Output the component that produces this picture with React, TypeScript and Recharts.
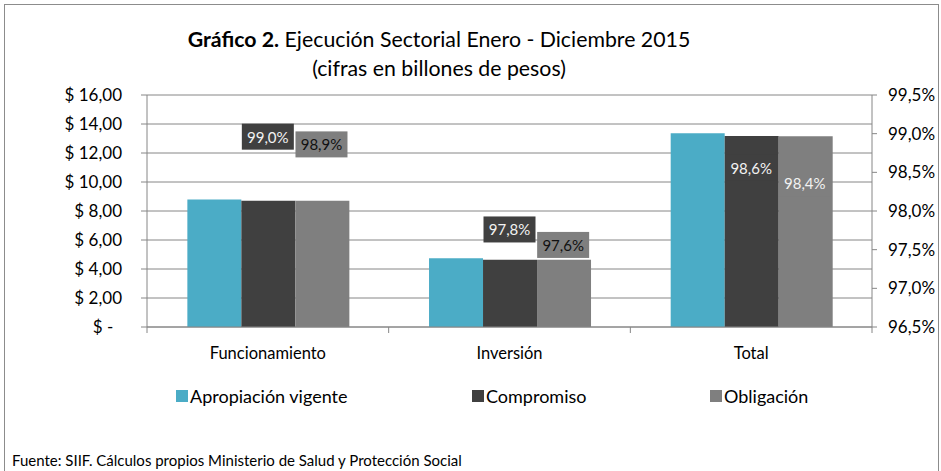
import React from 'react';
import { ComposedChart, Bar, Line, XAxis, YAxis, CartesianGrid } from 'recharts';

const categories = ['Funcionamiento', 'Inversión', 'Total'];
const apropiacion = [8.8, 4.74, 13.36];
const compromiso = [8.71, 4.64, 13.17];
const obligacion = [8.7, 4.63, 13.15];
const compromisoPct = [99.0, 97.8, 98.6];
const obligacionPct = [98.9, 97.6, 98.4];
const leftTicks = [0, 2, 4, 6, 8, 10, 12, 14, 16];
const rightTicks = [96.5, 97, 97.5, 98, 98.5, 99, 99.5];

const series = [
  { key: 'apropiacion', name: 'Apropiación vigente', color: '#4BACC6' },
  { key: 'compromiso', name: 'Compromiso', color: '#404040' },
  { key: 'obligacion', name: 'Obligación', color: '#7F7F7F' },
];

const data = categories.map((name, i) => ({
  name,
  apropiacion: apropiacion[i],
  compromiso: compromiso[i],
  obligacion: obligacion[i],
  compromisoPct: compromisoPct[i],
  obligacionPct: obligacionPct[i],
}));

const FONT = 'Lato, "Liberation Sans", sans-serif';
const AXIS = '#868686';
const W = 941;
const H = 471;
const LEFT_W = 147;
const RIGHT_W = 69;
const BAND = (W - LEFT_W - RIGHT_W) / categories.length;
const GAP = 0.167;
const BAR_W = (BAND * (1 - 2 * GAP)) / 3;

const money = (v: number) => (v === 0 ? '$ -\u00a0\u00a0' : `$ ${v.toFixed(2).replace('.', ',')}`);
const pct = (v: number) => `${v.toFixed(1).replace('.', ',')}%`;

const CategoryTick = (props: any) => {
  const { x, y, payload, index } = props;
  return (
    <g>
      <line x1={x - BAND / 2} x2={x - BAND / 2} y1={y} y2={y + 6} stroke={AXIS} />
      {index === categories.length - 1 && (
        <line x1={x + BAND / 2} x2={x + BAND / 2} y1={y} y2={y + 6} stroke={AXIS} />
      )}
      <text x={x} y={y + 26} textAnchor="middle" dominantBaseline="central" fontSize={16.5} fill="#000" fontFamily={FONT}>
        {payload.value}
      </text>
    </g>
  );
};

const pctLabel = (fill: string, textColor: (i: number) => string, dx: number) => (props: any) => {
  const { x, y, value, index } = props;
  const cx = x + dx;
  const cy = y + 3;
  return (
    <g>
      <rect x={cx - 26} y={cy - 13} width={52} height={26} fill={fill} />
      <text x={cx} y={cy} textAnchor="middle" dominantBaseline="central" fontSize={15} fill={textColor(index)} fontFamily={FONT}>
        {pct(value)}
      </text>
    </g>
  );
};

export default function App() {
  return (
    <div style={{ position: 'absolute', left: 0, top: 0, width: W, height: H, background: '#fff', overflow: 'hidden', fontFamily: FONT }}>
      <div style={{ position: 'absolute', left: 4, top: 4, width: 933, height: H + 20, border: '1px solid #8C8C8C' }} />
      <div style={{ position: 'absolute', left: 0, top: 25, width: 878, textAlign: 'center', fontSize: 21.3, lineHeight: '29px', color: '#000' }}>
        <div>
          <b>Gráfico 2.</b> Ejecución Sectorial Enero - Diciembre 2015
        </div>
        <div>(cifras en billones de pesos)</div>
      </div>
      <div style={{ position: 'absolute', left: 0, top: 0 }}>
        <ComposedChart
          width={W}
          height={H}
          data={data}
          margin={{ top: 95, right: 0, left: 0, bottom: 114 }}
          barCategoryGap={`${GAP * 100}%`}
          barGap={0}
        >
          <CartesianGrid yAxisId="left" vertical={false} stroke={AXIS} />
          <XAxis
            dataKey="name"
            yAxisId="left"
            height={30}
            tickSize={0}
            tickMargin={0}
            axisLine={{ stroke: AXIS }}
            tick={<CategoryTick />}
            interval={0}
          />
          <YAxis
            yAxisId="left"
            width={LEFT_W}
            domain={[0, 16]}
            ticks={leftTicks}
            tickFormatter={money}
            tickSize={6}
            tickMargin={19}
            tickLine={{ stroke: AXIS }}
            axisLine={{ stroke: AXIS }}
            tick={{ fontSize: 17, fill: '#000', fontFamily: FONT }}
            interval={0}
          />
          <YAxis
            yAxisId="right"
            orientation="right"
            width={RIGHT_W}
            domain={[96.5, 99.5]}
            ticks={rightTicks}
            tickFormatter={pct}
            tickSize={5}
            tickMargin={11}
            tickLine={{ stroke: AXIS }}
            axisLine={{ stroke: AXIS }}
            tick={{ fontSize: 17, fill: '#000', fontFamily: FONT }}
            interval={0}
          />
          {series.map((s) => (
            <Bar key={s.key} yAxisId="left" dataKey={s.key} name={s.name} fill={s.color} isAnimationActive={false} />
          ))}
          <Line
            yAxisId="right"
            dataKey="compromisoPct"
            stroke="none"
            dot={false}
            activeDot={false}
            legendType="none"
            isAnimationActive={false}
            label={pctLabel('#404040', () => '#F2F2F2', 0)}
          />
          <Line
            yAxisId="right"
            dataKey="obligacionPct"
            stroke="none"
            dot={false}
            activeDot={false}
            legendType="none"
            isAnimationActive={false}
            label={pctLabel('#7F7F7F', (i) => (i === 2 ? '#F2F2F2' : '#111'), BAR_W)}
          />
        </ComposedChart>
      </div>
      {series.map((s, i) => (
        <div
          key={s.key}
          style={{ position: 'absolute', left: [176, 472, 710][i], top: 385, display: 'flex', alignItems: 'center', fontSize: 18, lineHeight: '22px', color: '#000' }}
        >
          <span style={{ display: 'inline-block', width: 12, height: 12, background: s.color, marginRight: 2 }} />
          {s.name}
        </div>
      ))}
      <div style={{ position: 'absolute', left: 12, top: 451, fontSize: 15, color: '#000' }}>
        Fuente: SIIF. Cálculos propios Ministerio de Salud y Protección Social
      </div>
    </div>
  );
}
